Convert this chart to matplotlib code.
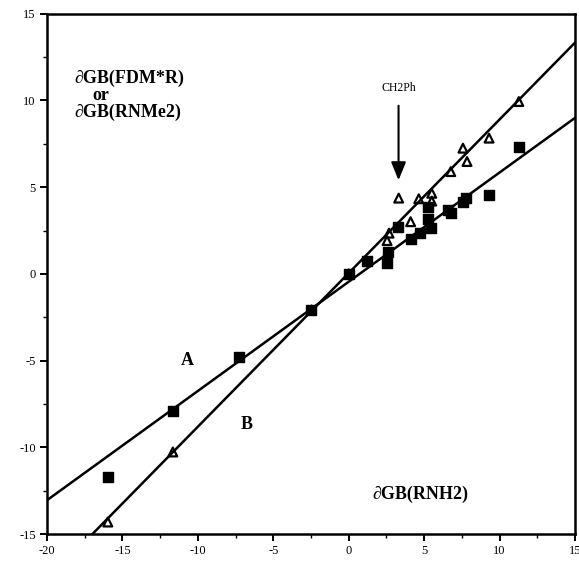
import matplotlib
matplotlib.use("Agg")
import matplotlib.pyplot as plt
import numpy as np

plt.rcParams['axes.unicode_minus'] = False
plt.rcParams['font.family'] = ['Liberation Serif', 'DejaVu Serif']

# Series A: filled squares  (RNMe2 vs RNH2)
sq_x = [-15.97, -11.66, -7.27, -2.47, 0.0, 1.24, 2.60, 2.54, 3.27, 4.15, 4.75,
        5.26, 5.26, 5.46, 6.58, 6.80, 7.57, 7.80, 9.30, 11.29]
sq_y = [-11.72, -7.91, -4.78, -2.08, 0.0, 0.76, 1.25, 0.65, 2.69, 2.00, 2.38,
        3.86, 3.17, 2.63, 3.69, 3.50, 4.17, 4.37, 4.56, 7.31]

# Series B: open triangles  (FDM*R vs RNH2)
tri_x = [-15.97, -11.66, -2.47, 0.0, 2.54, 2.67, 3.31, 4.10, 4.64, 5.50, 5.50,
         6.76, 7.57, 7.84, 9.30, 11.27]
tri_y = [-14.31, -10.27, -2.08, 0.0, 1.92, 2.35, 4.37, 3.01, 4.33, 4.20, 4.65,
         5.90, 7.25, 6.48, 7.83, 9.94]

# Regression lines (slope, intercept)
line_A = (0.63, -0.45)
line_B = (0.886, 0.05)

x_ticks = [-20, -15, -10, -5, 0, 5, 10, 15]
y_ticks = [-15, -10, -5, 0, 5, 10, 15]

fig = plt.figure(figsize=(5.79, 5.63), dpi=100)
ax = fig.add_axes([0.0812, 0.0515, 0.912, 0.924])

xs = np.array([-20.0, 15.0])
for slope, icpt in (line_A, line_B):
    ax.plot(xs, slope * xs + icpt, color='black', lw=1.8, zorder=2)

ax.scatter(sq_x, sq_y, marker='s', s=42, color='black', zorder=3)
ax.scatter(tri_x, tri_y, marker='^', s=40, facecolors='none',
           edgecolors='black', linewidths=1.6, zorder=3)

ax.set_xlim(-20, 15)
ax.set_ylim(-15, 15)
ax.set_xticks(x_ticks)
ax.set_yticks(y_ticks)
ax.set_xticks(np.arange(-17.5, 15, 5), minor=True)
ax.set_yticks(np.arange(-12.5, 15, 5), minor=True)
ax.tick_params(which='major', direction='out', length=5, width=1.4,
               labelsize=9, pad=3)
ax.tick_params(which='minor', direction='out', length=3, width=1.0)
for sp in ax.spines.values():
    sp.set_linewidth(1.8)

bold = dict(fontweight='bold', fontsize=13)
ax.text(-18.2, 11.25, '∂GB(FDM*R)', ha='left', va='center', **bold)
ax.text(-17.0, 10.3, 'or', ha='left', va='center', **bold)
ax.text(-18.2, 9.3, '∂GB(RNMe2)', ha='left', va='center', **bold)
ax.text(7.9, -12.7, '∂GB(RNH2)', ha='right', va='center', **bold)
ax.text(-10.7, -5.0, 'A', ha='center', va='center', **bold)
ax.text(-6.8, -8.7, 'B', ha='center', va='center', **bold)

ax.text(3.3, 10.7, 'CH2Ph', ha='center', va='center', fontsize=8.5)
ax.annotate('', xy=(3.3, 5.4), xytext=(3.3, 9.7),
            arrowprops=dict(arrowstyle='-|>,head_length=1.1,head_width=0.45',
                            color='black', lw=1.5, shrinkA=0, shrinkB=0))

fig.savefig('out.png', dpi=100)
